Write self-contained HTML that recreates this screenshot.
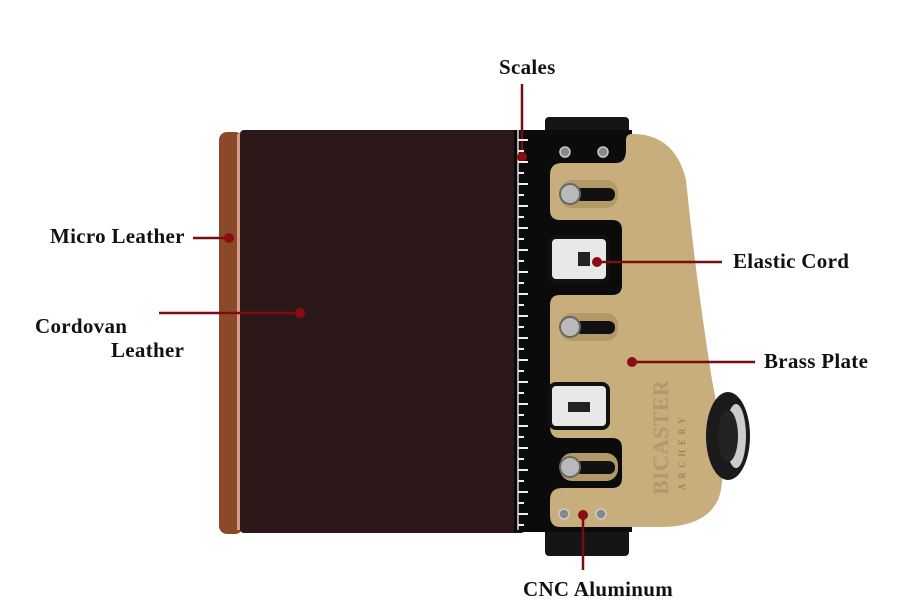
<!DOCTYPE html>
<html><head><meta charset="utf-8"><style>
html,body{margin:0;padding:0;background:#fff}
svg{display:block}
text{font-family:"Liberation Serif",serif;font-weight:bold;font-size:21px;fill:#111;letter-spacing:0.3px}
</style></head><body>
<svg width="908" height="605" viewBox="0 0 908 605" xmlns="http://www.w3.org/2000/svg">
<rect width="908" height="605" fill="#fff"/>
<rect x="219" y="132" width="24" height="402" rx="8" fill="#8a4a2a"/>
<rect x="237" y="134" width="3" height="396" fill="#d99a86"/>
<rect x="240" y="130" width="285" height="403" rx="4" fill="#2c1719"/>
<rect x="545" y="117" width="84" height="30" rx="4" fill="#151515"/>
<rect x="545" y="518" width="84" height="38" rx="4" fill="#151515"/>
<rect x="514" y="130" width="118" height="402" fill="#0b0b0b"/>
<line x1="518" y1="130" x2="518" y2="530" stroke="#ddd" stroke-width="1.5"/>
<path d="M632 134 Q675 134 686 180 Q696 280 712 380 Q730 470 718 500 Q705 527 660 527 L560 527 Q550 527 550 515 L550 500 Q550 488 562 488 L612 488 Q622 488 622 478 L622 448 Q622 438 612 438 L560 438 Q550 438 550 426 L550 305 Q550 295 560 295 L612 295 Q622 295 622 285 L622 230 Q622 220 612 220 L560 220 Q550 220 550 210 L550 175 Q550 163 562 163 L616 163 Q626 163 626 150 L626 140 Q626 134 632 134 Z" fill="#c8ad7d"/>
<rect x="560" y="180" width="58" height="28" rx="12" fill="#b39868"/>
<rect x="560" y="313" width="58" height="28" rx="12" fill="#b39868"/>
<rect x="560" y="453" width="58" height="28" rx="12" fill="#b39868"/>
<g fill="#111"><rect x="575" y="188" width="40" height="13" rx="6"/><rect x="575" y="321" width="40" height="13" rx="6"/><rect x="575" y="461" width="40" height="13" rx="6"/></g>
<g fill="#b9b9b9" stroke="#666" stroke-width="2"><circle cx="570" cy="194" r="10"/><circle cx="570" cy="327" r="10"/><circle cx="570" cy="467" r="10"/></g>
<rect x="550" y="237" width="58" height="44" rx="6" fill="#e8e8e8" stroke="#111" stroke-width="4"/>
<rect x="550" y="384" width="58" height="44" rx="6" fill="#e8e8e8" stroke="#111" stroke-width="4"/>
<rect x="578" y="252" width="12" height="14" fill="#222"/>
<rect x="568" y="402" width="22" height="10" fill="#222"/>
<g fill="#888" stroke="#ccc" stroke-width="1.5"><circle cx="565" cy="152" r="5"/><circle cx="603" cy="152" r="5"/><circle cx="564" cy="514" r="5"/><circle cx="601" cy="514" r="5"/></g>
<ellipse cx="728" cy="436" rx="22" ry="44" fill="#1a1a1a"/>
<ellipse cx="736" cy="436" rx="10" ry="32" fill="#ccc"/>
<ellipse cx="728" cy="436" rx="10" ry="26" fill="#222"/>
<text x="0" y="0" transform="translate(668,495) rotate(-90)" style="font-size:22px;fill:#b09870">BICASTER</text>
<text x="0" y="0" transform="translate(685,490) rotate(-90)" style="font-size:9px;fill:#8a7550;letter-spacing:5px;font-weight:normal">ARCHERY</text>
<g stroke="#7a0d10" stroke-width="2.5" fill="none">
<line x1="522" y1="84" x2="522" y2="157"/>
<line x1="193" y1="238" x2="230" y2="238"/>
<line x1="159" y1="313" x2="300" y2="313"/>
<line x1="597" y1="262" x2="722" y2="262"/>
<line x1="632" y1="362" x2="755" y2="362"/>
<line x1="583" y1="515" x2="583" y2="570"/>
</g>
<g fill="#8a0d12">
<circle cx="522" cy="157" r="5"/><circle cx="229" cy="238" r="5"/><circle cx="300" cy="313" r="5"/>
<circle cx="597" cy="262" r="5"/><circle cx="632" cy="362" r="5"/><circle cx="583" cy="515" r="5"/>
</g>
<text x="499" y="74">Scales</text>
<text x="50" y="243">Micro Leather</text>
<text x="35" y="333">Cordovan</text>
<text x="111" y="357">Leather</text>
<text x="733" y="268">Elastic Cord</text>
<text x="764" y="368">Brass Plate</text>
<text x="523" y="596">CNC Aluminum</text>
<g stroke="#eee" stroke-width="2">
<line x1="518" y1="140" x2="528" y2="140"/><line x1="518" y1="151" x2="524" y2="151"/><line x1="518" y1="162" x2="528" y2="162"/><line x1="518" y1="173" x2="524" y2="173"/><line x1="518" y1="184" x2="528" y2="184"/><line x1="518" y1="195" x2="524" y2="195"/><line x1="518" y1="206" x2="528" y2="206"/><line x1="518" y1="217" x2="524" y2="217"/><line x1="518" y1="228" x2="528" y2="228"/><line x1="518" y1="239" x2="524" y2="239"/><line x1="518" y1="250" x2="528" y2="250"/><line x1="518" y1="261" x2="524" y2="261"/><line x1="518" y1="272" x2="528" y2="272"/><line x1="518" y1="283" x2="524" y2="283"/><line x1="518" y1="294" x2="528" y2="294"/><line x1="518" y1="305" x2="524" y2="305"/><line x1="518" y1="316" x2="528" y2="316"/><line x1="518" y1="327" x2="524" y2="327"/><line x1="518" y1="338" x2="528" y2="338"/><line x1="518" y1="349" x2="524" y2="349"/><line x1="518" y1="360" x2="528" y2="360"/><line x1="518" y1="371" x2="524" y2="371"/><line x1="518" y1="382" x2="528" y2="382"/><line x1="518" y1="393" x2="524" y2="393"/><line x1="518" y1="404" x2="528" y2="404"/><line x1="518" y1="415" x2="524" y2="415"/><line x1="518" y1="426" x2="528" y2="426"/><line x1="518" y1="437" x2="524" y2="437"/><line x1="518" y1="448" x2="528" y2="448"/><line x1="518" y1="459" x2="524" y2="459"/><line x1="518" y1="470" x2="528" y2="470"/><line x1="518" y1="481" x2="524" y2="481"/><line x1="518" y1="492" x2="528" y2="492"/><line x1="518" y1="503" x2="524" y2="503"/><line x1="518" y1="514" x2="528" y2="514"/><line x1="518" y1="525" x2="524" y2="525"/>
</g>
</svg>
</body></html>
